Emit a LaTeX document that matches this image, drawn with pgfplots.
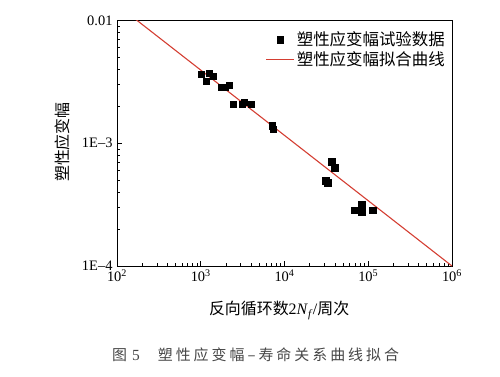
\documentclass[border=0pt]{standalone}
\usepackage{pgfplots}
\pgfplotsset{compat=1.18}
\usepackage{fontspec}
\setmainfont{Liberation Serif}
\newfontfamily\cjk{Noto Sans CJK SC}
\newfontfamily\cjkcap[LetterSpace=20]{Noto Sans CJK SC}
\definecolor{fitred}{RGB}{212,62,50}
\definecolor{capgray}{RGB}{70,70,70}
\begin{document}
\begin{tikzpicture}
\path[use as bounding box] (0,0) rectangle (500bp,-377bp);
\begin{axis}[
  at={(117bp,-20.5bp)}, anchor=north west,
  width=335bp, height=245.5bp, scale only axis=true,
  xmode=log, ymode=log,
  xmin=100, xmax=1e6, ymin=1e-4, ymax=1e-2,
  xtick={1e2,1e3,1e4,1e5,1e6},
  xticklabels={10\textsuperscript{2},10\textsuperscript{3},10\textsuperscript{4},10\textsuperscript{5},10\textsuperscript{6}},
  ytick={1e-4,1e-3,1e-2},
  yticklabels={1E--4,1E--3,0.01},
  /pgf/number format/assume math mode=true,
  tick label style={font=\fontsize{14.5}{16}\selectfont},
  xtick pos=bottom, ytick pos=left,
  tick align=inside,
  major tick length=5bp, minor tick length=3bp,
  axis line style={line width=0.9pt},
  every tick/.style={line width=0.7pt, black},
  xticklabel style={yshift=-0.5bp},
  yticklabel style={xshift=-1bp},
  xlabel={{\cjk 反向循环数}2\textit{N}\textsubscript{\textit{f}}/{\cjk 周次}},
  ylabel={\cjk 塑性应变幅},
  label style={font=\fontsize{16}{18}\selectfont},
  xlabel style={at={(axis description cs:0.484,-0.18)}, anchor=center},
  ylabel style={at={(axis description cs:-0.164,0.505)}, anchor=center, rotate=0},
  legend style={at={(axis description cs:0.985,0.962)}, anchor=north east,
    draw=none, fill=none, inner xsep=0pt, inner ysep=0pt,
    font=\fontsize{16.5}{18}\selectfont\cjk, row sep=0bp,
    cells={anchor=west}},
  legend image code/.code={\draw[mark repeat=2,mark phase=2,#1] plot coordinates {(0bp,0bp)(14bp,0bp)(28bp,0bp)};},
]
\addplot[only marks, mark=square*, mark size=3.1bp, black] coordinates {
  (1014,3.67e-3) (1164,3.22e-3) (1265,3.74e-3) (1413,3.54e-3)
  (1762,2.88e-3) (1965,2.88e-3) (2193,2.99e-3)
  (2449,2.09e-3) (3139,2.09e-3) (3318,2.17e-3) (4027,2.09e-3)
  (7180,1.39e-3) (7380,1.31e-3)
  (36560,7.08e-4) (39700,6.32e-4) (30960,4.96e-4) (32740,4.77e-4)
  (68900,2.83e-4) (83600,3.16e-4) (83600,2.77e-4) (113200,2.83e-4)
};
\addlegendentry{塑性应变幅试验数据}
\addplot[fitred, line width=1.1pt, no marks] coordinates {
  (100,0.01343) (1e6,1e-4)
};
\addlegendentry{塑性应变幅拟合曲线}
\end{axis}
\node[font=\fontsize{15}{18}\selectfont, text=capgray, anchor=west, inner sep=0pt] at (112bp,-355bp) {{\cjkcap 图}\hspace{5bp}{\fontsize{15.5}{18}\selectfont 5}\hspace{18bp}{\cjkcap 塑性应变幅–寿命关系曲线拟合}};
\end{tikzpicture}
\end{document}
